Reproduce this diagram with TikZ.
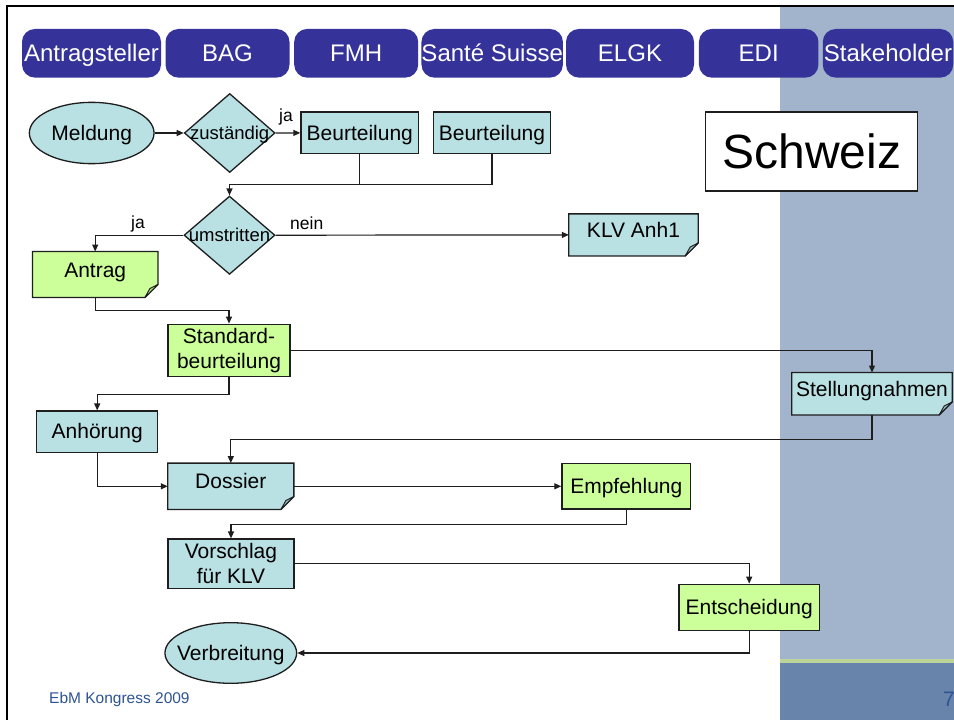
\documentclass[tikz,border=0pt]{standalone}
\usepackage{fontspec}
\setmainfont{Liberation Sans}
\usetikzlibrary{shapes.geometric,arrows.meta}
\definecolor{pillblue}{HTML}{353399}
\definecolor{cyanbox}{HTML}{B9E0E3}
\definecolor{greenbox}{HTML}{CCFF99}
\definecolor{panel}{HTML}{A2B4CC}
\definecolor{paneldark}{HTML}{6884AA}
\definecolor{panelline}{HTML}{BCD39A}
\definecolor{footblue}{HTML}{2E5494}
\definecolor{edgecol}{HTML}{1E1E1E}
\tikzset{
  ln/.style={draw=edgecol, line width=1.2pt},
  arr/.style={ln, -{Triangle[length=7pt,width=6pt]}},
  shapeline/.style={draw=edgecol, line width=1.3pt},
  boxfont/.style={font=\fontsize{21}{25}\selectfont, inner sep=0pt},
  onetxt/.style={boxfont, text height=19pt, text depth=4.45pt},
  cbox/.style={rectangle, shapeline, fill=cyanbox, onetxt},
  gbox/.style={rectangle, shapeline, fill=greenbox, onetxt},
  twotxt/.style={rectangle, shapeline, boxfont, align=center},
  docgeom/.style={rectangle, inner sep=0pt},
  doctxt/.style={onetxt, text height=15pt, text depth=0pt, anchor=base},
  pillbox/.style={rectangle, fill=pillblue, rounded corners=13pt, text=white,
    font=\fontsize{24}{27}\selectfont, inner sep=0pt, minimum height=48.7pt,
    text height=21.7pt, text depth=5.1pt},
  decision/.style={diamond, shapeline, fill=cyanbox, inner sep=0pt},
  terminal/.style={ellipse, shapeline, fill=cyanbox, inner sep=0pt},
  ditxt/.style={font=\fontsize{18.5}{21}\selectfont, inner sep=0pt, text height=16.75pt, text depth=3.9pt},
  lbl/.style={font=\fontsize{17.5}{20}\selectfont, inner sep=0pt},
}
\newcommand\docoutline[2]{%
  \draw[shapeline, fill=#2] (#1.north west) -- (#1.north east) -- ([yshift=13pt]#1.south east)
    -- ([xshift=-13pt]#1.south east) -- (#1.south west) -- cycle;
  \draw[draw=edgecol, line width=0.9pt, fill=#2!82!black, line join=round] ([yshift=13pt]#1.south east)
    -- ([xshift=-8pt,yshift=9pt]#1.south east) -- ([xshift=-13pt]#1.south east) -- cycle;}
\begin{document}
\begin{tikzpicture}[x=1pt,y=-1pt]
\useasboundingbox (0,0) rectangle (954,720);
\fill[white] (0,0) rectangle (954,720);
% side panel
\fill[panel] (780,7) rectangle (954,659.3);
\fill[panelline] (780,659.3) rectangle (954,662.7);
\fill[paneldark] (780,662.7) rectangle (954,720);
% frame
\draw[black, line width=2pt] (7,721) -- (7,6) -- (955,6);

% header
\node[pillbox, minimum width=139pt] (h1) at (91.5,53.3) {Antragsteller};
\node[pillbox, minimum width=124pt] (h2) at (227.5,53.3) {BAG};
\node[pillbox, minimum width=124pt] (h3) at (356.2,53.3) {FMH};
\node[pillbox, minimum width=139.5pt] (h4) at (492.2,53.3) {Santé Suisse};
\node[pillbox, minimum width=128pt] (h5) at (630,53.3) {ELGK};
\node[pillbox, minimum width=119.5pt] (h6) at (758.7,53.3) {EDI};
\node[pillbox, minimum width=130.5pt] (h7) at (888,53.3) {Stakeholder};

% Schweiz
\node[rectangle, shapeline, fill=white, font=\fontsize{48}{53}\selectfont, inner sep=0pt,
  minimum width=212pt, minimum height=79pt, text height=43.4pt, text depth=10.2pt] (schweiz) at (811.7,151.5) {Schweiz};

% nodes
\node[terminal, minimum width=124.7pt, minimum height=61.3pt] (meld) at (91.7,133) {};
\node[onetxt] (meldt) at (meld.center) {Meldung};
\node[decision, minimum width=90.7pt, minimum height=79pt] (zust) at (229.7,133) {};
\node[ditxt] (zustt) at (zust.center) {zuständig};
\node[cbox, minimum width=117.7pt, minimum height=41.7pt] (beu1) at (359.8,132.9) {Beurteilung};
\node[cbox, minimum width=117.4pt, minimum height=41.7pt] (beu2) at (492,132.9) {Beurteilung};
\node[decision, minimum width=91pt, minimum height=78.3pt] (umstr) at (229.5,235.2) {};
\node[ditxt] (umstrt) at (umstr.center) {umstritten};

\node[docgeom, minimum width=125pt, minimum height=45.6pt] (antrag) at (95.2,274.5) {};
\docoutline{antrag}{greenbox}
\node[doctxt] (antragt) at ([yshift=-2.5pt]antrag.center) {Antrag};

\node[docgeom, minimum width=129pt, minimum height=41.7pt] (klv) at (633.5,234.9) {};
\docoutline{klv}{cyanbox}
\node[doctxt] (klvt) at ([yshift=-2.5pt]klv.center) {KLV Anh1};

\node[twotxt, fill=greenbox, minimum width=122pt, minimum height=52.5pt] (std) at (229,350.5) {Standard-\\beurteilung};

\node[docgeom, minimum width=160pt, minimum height=42pt] (stel) at (872,393.7) {};
\docoutline{stel}{cyanbox}
\node[doctxt] (stelt) at ([yshift=-2.5pt]stel.center) {Stellungnahmen};

\node[cbox, minimum width=121pt, minimum height=41.3pt] (anh) at (97.2,431.7) {Anhörung};

\node[docgeom, minimum width=125.7pt, minimum height=46pt] (dos) at (230.8,486.3) {};
\docoutline{dos}{cyanbox}
\node[doctxt] (dost) at ([yshift=-2.5pt]dos.center) {Dossier};

\node[gbox, minimum width=128.7pt, minimum height=45.3pt] (emp) at (626.3,486.3) {Empfehlung};
\node[twotxt, fill=cyanbox, minimum width=126pt, minimum height=49.3pt] (vor) at (231,563.7) {Vorschlag\\für KLV};
\node[gbox, minimum width=140.3pt, minimum height=46pt] (ent) at (749.2,607.3) {Entscheidung};
\node[terminal, minimum width=131.7pt, minimum height=60.6pt] (verb) at (230.8,653) {};
\node[onetxt] (verbt) at (verb.center) {Verbreitung};

% labels
\node[lbl] (ja1) at (286,117) {ja};
\node[lbl] (ja2) at (138,224.3) {ja};
\node[lbl] (nein) at (306.7,223.3) {nein};

% connectors
\coordinate (joinpt) at (229.5,184.3);
\draw[arr] (meld.east) -- (zust.west);
\draw[arr] (zust.east) -- (beu1.west);
\draw[ln] (beu1.south) -- (beu1.south |- joinpt);
\draw[arr] (beu2.south) |- (joinpt) -- (umstr.north);
\draw[arr] (umstr.west) -| (antrag.north);
\draw[arr] (umstr.east) -- (klv.west);
\draw[arr] (antrag.south) -- ++(0,13) -| (std.north);
\draw[arr] (std.east) -| (stel.north);
\draw[arr] (std.south) -- ++(0,17) -| (anh.north);
\draw[arr] (stel.south) -- ++(0,24.3) -| (dos.north);
\draw[arr] (anh.south) |- (dos.west);
\draw[arr] (dos.east) -- (emp.west);
\draw[arr] (emp.south) -- ++(0,15) -| (vor.north);
\draw[arr] (vor.east) -| (ent.north);
\draw[arr] (ent.south) |- (verb.east);

% footer
\node[anchor=base west, inner sep=0pt, font=\fontsize{15.5}{17}\selectfont, text=footblue] (foot) at (49,703.5) {EbM Kongress 2009};
\node[anchor=base west, inner sep=0pt, font=\fontsize{21}{24}\selectfont, text=footblue] (pnum) at (943,706) {7};
\end{tikzpicture}
\end{document}
